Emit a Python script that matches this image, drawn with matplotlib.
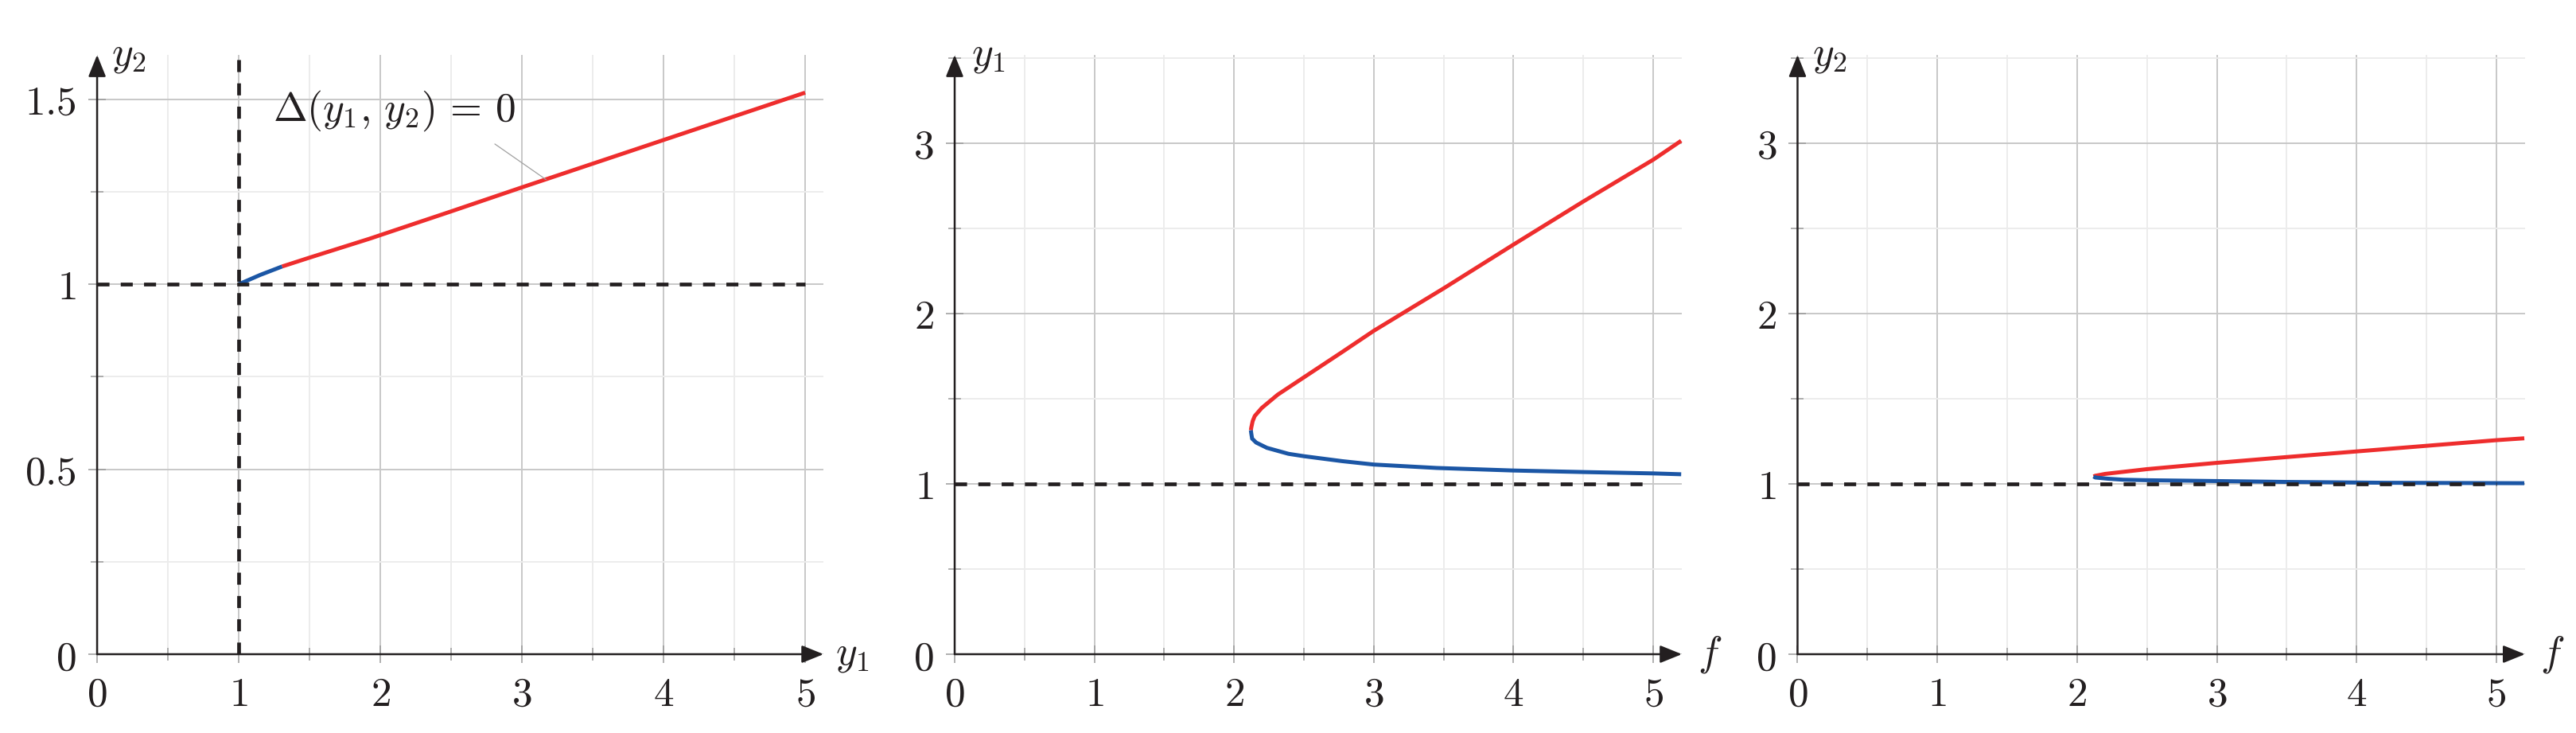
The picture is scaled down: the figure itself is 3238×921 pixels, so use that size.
import numpy as np
import matplotlib
matplotlib.use('Agg')
import matplotlib.pyplot as plt
from matplotlib.ticker import FixedLocator, FixedFormatter

plt.rcParams['mathtext.fontset'] = 'cm'
plt.rcParams['font.family'] = 'DejaVu Serif'

RED = '#EE2D2D'
BLUE = '#1B56A5'
BLACK = '#231F20'
GRID_MAJ = '#C8C8C8'
GRID_MIN = '#ECECEC'
FS = 37

# panel 1 : y2 against y1 along Delta(y1, y2) = 0
p1_blue_y1 = [1.0, 1.15, 1.306]
p1_blue_y2 = [1.0, 1.025, 1.048]
p1_red_y1 = [1.306, 1.5, 1.923, 2.5, 3.0, 3.5, 4.0, 4.5, 5.0]
p1_red_y2 = [1.048, 1.072, 1.123, 1.197, 1.262, 1.326, 1.39, 1.454, 1.518]

# panel 2 : y1 against f
p2_red_f = [2.12, 2.123, 2.133, 2.148, 2.198, 2.312, 2.5, 2.773, 3.0, 3.5, 4.0, 4.5, 5.0, 5.2]
p2_red_y1 = [1.314, 1.33, 1.368, 1.398, 1.445, 1.523, 1.625, 1.773, 1.898, 2.147, 2.404, 2.657, 2.902, 3.013]
p2_blue_f = [2.12, 2.123, 2.129, 2.158, 2.235, 2.389, 2.5, 2.773, 3.0, 3.45, 4.0, 4.5, 5.0, 5.2]
p2_blue_y1 = [1.314, 1.295, 1.265, 1.242, 1.211, 1.176, 1.162, 1.133, 1.113, 1.093, 1.078, 1.069, 1.061, 1.056]

# panel 3 : y2 against f
p3_red_f = [2.118, 2.13, 2.2, 2.5, 2.81, 3.0, 3.5, 4.0, 4.5, 5.0, 5.2]
p3_red_y2 = [1.043, 1.047, 1.058, 1.086, 1.109, 1.123, 1.157, 1.190, 1.223, 1.256, 1.267]
p3_blue_f = [2.118, 2.13, 2.22, 2.33, 2.5, 2.81, 3.5, 4.21, 5.0, 5.2]
p3_blue_y2 = [1.043, 1.037, 1.030, 1.024, 1.021, 1.018, 1.011, 1.006, 1.004, 1.0035]

# dashed reference lines
ref_x = [0, 5]
ref_y = [1, 1]
p1_vert_x = [1, 1]
p1_vert_y = [0, 1.62]

x_ticks = [0, 1, 2, 3, 4, 5]
x_minor = [0.5, 1.5, 2.5, 3.5, 4.5]
p1_yticks = [0, 0.5, 1, 1.5]
p1_ylabels = ['$0$', '$0.5$', '$1$', '$1.5$']
p1_yminor = [0.25, 0.75, 1.25]
p23_yticks = [0, 1, 2, 3]
p23_yminor = [0.5, 1.5, 2.5, 3.5]

fig = plt.figure(figsize=(32.38, 9.21), dpi=100)
ax1 = fig.add_axes([0.0377, 0.1075, 0.2820, 0.8176])
ax2 = fig.add_axes([0.3706, 0.1075, 0.2823, 0.8176])
ax3 = fig.add_axes([0.6978, 0.1075, 0.2824, 0.8176])


def style_axis(ax, xmax, ymax, yticks, ylabels, yminor, xlabel, ylabel, xl_off, yl_off):
  ax.set_xlim(0, xmax)
  ax.set_ylim(0, ymax)
  for s in ax.spines.values():
    s.set_visible(False)
  ax.xaxis.set_major_locator(FixedLocator(x_ticks))
  ax.xaxis.set_major_formatter(FixedFormatter(['$%d$' % t for t in x_ticks]))
  ax.xaxis.set_minor_locator(FixedLocator(x_minor))
  ax.yaxis.set_major_locator(FixedLocator(yticks))
  ax.yaxis.set_major_formatter(FixedFormatter(ylabels))
  ax.yaxis.set_minor_locator(FixedLocator(yminor))
  ax.tick_params(which='major', direction='inout', length=16, width=1.1,
                 color='#9A9A9A', labelsize=FS, labelcolor=BLACK, pad=11)
  ax.tick_params(which='minor', direction='inout', length=11, width=1.1, color='#9A9A9A')
  ax.set_axisbelow(True)
  ax.grid(which='major', color=GRID_MAJ, lw=1.4)
  ax.grid(which='minor', color=GRID_MIN, lw=1.4)
  ap = dict(arrowstyle='-|>,head_length=0.42,head_width=0.17', color=BLACK, lw=1.8,
            shrinkA=0, shrinkB=0, mutation_scale=40)
  ax.annotate('', xy=(1, 0), xytext=(0, 0), xycoords='axes fraction',
              textcoords='axes fraction', arrowprops=ap, zorder=6, annotation_clip=False)
  ax.annotate('', xy=(0, 1), xytext=(0, 0), xycoords='axes fraction',
              textcoords='axes fraction', arrowprops=ap, zorder=6, annotation_clip=False)
  ax.annotate(xlabel, xy=(1, 0), xycoords='axes fraction', xytext=(xl_off, 0),
              textcoords='offset points', ha='left', va='center', fontsize=FS, color=BLACK)
  ax.annotate(ylabel, xy=(0, 1), xycoords='axes fraction', xytext=(yl_off, 0),
              textcoords='offset points', ha='left', va='center', fontsize=FS, color=BLACK)


dash = dict(color=BLACK, lw=3.4, dashes=(3.2, 3.0), zorder=4,
            dash_capstyle='butt', clip_on=False)
curve = dict(lw=3.6, zorder=3, solid_capstyle='butt', clip_on=False)

# panel 1
style_axis(ax1, 5.13, 1.62, p1_yticks, p1_ylabels, p1_yminor, '$y_1$', '$y_2$', 11, 13)
ax1.plot(p1_red_y1, p1_red_y2, color=RED, **curve)
ax1.plot(p1_blue_y1, p1_blue_y2, color=BLUE, **curve)
ax1.plot(ref_x, ref_y, **dash)
ax1.plot(p1_vert_x, p1_vert_y, **dash)
ax1.annotate(r'$\Delta(y_1,\,y_2)\,=\,0$', xy=(3.17, 1.283), xytext=(1.24, 1.442),
             ha='left', va='baseline', fontsize=FS, color=BLACK,
             arrowprops=dict(arrowstyle='-', color='#A0A0A0', lw=0.9,
                             relpos=(0.85, 0.0), shrinkA=14, shrinkB=0))

# panel 2
style_axis(ax2, 5.205, 3.517, p23_yticks, ['$%d$' % t for t in p23_yticks], p23_yminor,
           '$f$', '$y_1$', 14, 15)
ax2.plot(p2_red_f, p2_red_y1, color=RED, **curve)
ax2.plot(p2_blue_f, p2_blue_y1, color=BLUE, **curve)
ax2.plot(ref_x, ref_y, **dash)

# panel 3
style_axis(ax3, 5.205, 3.517, p23_yticks, ['$%d$' % t for t in p23_yticks], p23_yminor,
           '$f$', '$y_2$', 14, 13)
ax3.plot(p3_red_f, p3_red_y2, color=RED, **curve)
ax3.plot(p3_blue_f, p3_blue_y2, color=BLUE, **curve)
ax3.plot(ref_x, ref_y, **dash)

fig.savefig('out.png', dpi=100)
